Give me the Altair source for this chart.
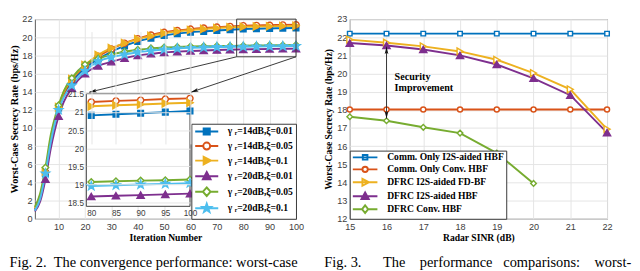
import math
import altair as alt
import pandas as pd

# ---------------- Fig. 2 : convergence ----------------
iters = [1, 3, 5, 7, 10, 12, 15, 20, 25, 30, 35, 40, 45, 50, 55, 60, 65, 70, 75, 80, 85, 90, 95, 100]
g14_x001 = [1.0, 2.3, 5.0, 8.5, 12.2, 13.7, 15.1, 16.6, 17.6, 18.4, 19.05, 19.55, 19.9, 20.2, 20.4, 20.55, 20.65, 20.75, 20.83, 20.91, 20.94, 20.97, 21.0, 21.03]
g14_x005 = [1.1, 2.4, 5.1, 8.6, 12.2, 13.8, 15.3, 16.8, 17.9, 18.7, 19.35, 19.85, 20.25, 20.55, 20.75, 20.9, 21.02, 21.12, 21.2, 21.28, 21.31, 21.33, 21.36, 21.38]
g14_x01 = [1.2, 2.6, 5.2, 8.8, 12.3, 14.0, 15.4, 16.95, 18.05, 18.8, 19.35, 19.8, 20.15, 20.45, 20.65, 20.8, 20.92, 21.02, 21.1, 21.16, 21.19, 21.21, 21.24, 21.26]
g20_x001 = [0.8, 1.9, 4.35, 7.7, 11.3, 12.9, 14.4, 16.0, 16.85, 17.3, 17.7, 18.0, 18.18, 18.33, 18.42, 18.49, 18.54, 18.59, 18.63, 18.67, 18.69, 18.71, 18.73, 18.75]
g20_x005 = [1.3, 2.8, 5.65, 9.2, 12.5, 14.1, 15.5, 17.0, 17.65, 18.1, 18.4, 18.62, 18.78, 18.88, 18.94, 18.98, 19.01, 19.03, 19.05, 19.07, 19.09, 19.11, 19.12, 19.14]
g20_x01 = [0.9, 2.2, 5.0, 8.4, 12.0, 13.4, 14.7, 16.3, 17.35, 17.8, 18.1, 18.35, 18.52, 18.66, 18.76, 18.83, 18.88, 18.92, 18.94, 18.96, 18.98, 19.0, 19.02, 19.04]

left_series = [g14_x001, g14_x005, g14_x01, g20_x001, g20_x005, g20_x01]
left_names = ["γ ᵣ=14dB,ξ=0.01", "γ ᵣ=14dB,ξ=0.05", "γ ᵣ=14dB,ξ=0.1",
              "γ ᵣ=20dB,ξ=0.01", "γ ᵣ=20dB,ξ=0.05", "γ ᵣ=20dB,ξ=0.1"]
left_x_ticks = [10, 20, 30, 40, 50, 60, 70, 80, 90, 100]
left_y_ticks = [0, 2, 4, 6, 8, 10, 12, 14, 16, 18, 20, 22]
inset_x_ticks = [80, 85, 90, 95, 100]
inset_y_ticks = [18.5, 19, 19.5, 20, 20.5, 21, 21.5]
inset_x_dom = [79, 100]
inset_y_dom = [18.4, 21.5]
zoom_box_x = [77.5, 100]
zoom_box_y = [17.85, 22]
arrow_tail_x = [77.5, 100]
arrow_tail_y = [17.85, 17.85]
arrow_tip_x = [21.6, 60.2]
arrow_tip_y = [13.95, 13.95]

# ---------------- Fig. 3 : comparisons ----------------
sinr = [15, 16, 17, 18, 19, 20, 21, 22]
comm_i2s = [22.2, 22.2, 22.2, 22.2, 22.2, 22.2, 22.2, 22.2]
comm_conv = [18.02, 18.02, 18.02, 18.02, 18.02, 18.02, 18.02, 18.02]
dfrc_fdbf = [21.87, 21.7, 21.5, 21.22, 20.76, 20.03, 19.13, 16.94]
dfrc_i2s = [21.68, 21.55, 21.33, 21.0, 20.5, 19.74, 18.81, 16.75]
sinr_conv = [15, 16, 17, 18, 19, 20]
dfrc_conv = [17.62, 17.4, 17.04, 16.72, 15.62, 13.95]
right_names = ["Comm. Only I2S-aided HBF", "Comm. Only Conv. HBF", "DFRC I2S-aided FD-BF",
               "DFRC I2S-aided HBF", "DFRC Conv. HBF"]
right_x_ticks = [15, 16, 17, 18, 19, 20, 21, 22]
right_y_ticks = [12, 13, 14, 15, 16, 17, 18, 19, 20, 21, 22, 23]
gap_x = [16]
gap_top = [21.48]
gap_bottom = [17.52]
note_text = ["Security", "Improvement"]
note_x = [16.22, 16.22]
note_y = [19.81, 19.18]

NB = "\u00a0"
caption_left = "Fig. 2." + NB * 2 + "The convergence performance: worst-case"
caption_right = ("Fig." + NB + "3." + NB * 6 + "The" + NB * 4 + "performance" + NB * 3 + "comparisons:"
                 + NB * 4 + "worst-")

# ---------------- styling ----------------
MATLAB = ["#0072BD", "#D95319", "#EDB120", "#7E2F8E", "#77AC30", "#4DBEEE"]
STAR = ("M0,-1.2L0.28,-0.39L1.14,-0.37L0.46,0.15L0.71,0.97L0,0.48L-0.71,0.97"
        "L-0.46,0.15L-1.14,-0.37L-0.28,-0.39Z")
ARROWHEAD = "M0,0L-0.55,2.2L0,1.7L0.55,2.2Z"
left_shapes = ["square", "circle", "triangle-right", "triangle-up", "diamond", STAR]
left_fills = [MATLAB[0], "white", MATLAB[2], MATLAB[3], "white", MATLAB[5]]
left_sizes = [34, 40, 55, 55, 45, 55]
right_colors = MATLAB[:5]
right_shapes = ["square", "circle", "triangle-right", "triangle-up", "diamond"]
right_fills = ["white", "white", "white", MATLAB[3], "white"]
right_sizes = [22, 28, 50, 55, 34]

leg_left_paths = [
    "M-3,0H3M-0.8,-0.8H0.8V0.8H-0.8Z",
    "M-3,0H-0.9M0.9,0H3M0.9,0A0.9,0.9,0,1,1,-0.9,0A0.9,0.9,0,1,1,0.9,0Z",
    "M-3,0H3M-0.8,-1L1.1,0L-0.8,1Z",
    "M-3,0H3M0,-1.1L1,0.8L-1,0.8Z",
    "M-3,0H-1M1,0H3M0,-1.1L1,0L0,1.1L-1,0Z",
    "M-3,0H3" + STAR,
]
leg_right_paths = [
    "M-3.2,0H3.2M-0.6,-0.6H0.6V0.6H-0.6Z",
    "M-3.2,0H-0.7M0.7,0H3.2M0.7,0A0.7,0.7,0,1,1,-0.7,0A0.7,0.7,0,1,1,0.7,0Z",
    "M-3.2,0H3.2M-0.7,-0.9L1,0L-0.7,0.9Z",
    "M-3.2,0H3.2M0,-1L0.95,0.75L-0.95,0.75Z",
    "M-3.2,0H-0.8M0.8,0H3.2M0,-1L0.8,0L0,1L-0.8,0Z",
]

W_L, W_R, H = 272, 268, 208


def ax(values, **kw):
    return alt.Axis(values=values, tickCount=len(values) + 1, labelOverlap=False, labelFlush=False,
                    labelBound=False, **kw)


# ---------------- left dataframe ----------------
rows = []
for name, vals in zip(left_names, left_series):
    for it, v in zip(iters, vals):
        rows.append({"it": it, "val": v, "series": name})
df_l = pd.DataFrame(rows)

xs_main = alt.Scale(domain=[1, 100], nice=False, zero=False)
ys_main = alt.Scale(domain=[0, 22], nice=False, zero=False)

X_main_axis = alt.X("it:Q", scale=xs_main, axis=ax(left_x_ticks, title="Iteration Number", orient="bottom",
                                                 titleFontSize=10, titlePadding=2, labelPadding=3))
Y_main_axis = alt.Y("val:Q", scale=ys_main, axis=ax(left_y_ticks, title="Worst-Case Secrecy Rate (bps/Hz)",
                                                  orient="left", titleFontSize=10.5, titlePadding=3, labelPadding=3))
X_main = alt.X("it:Q", scale=xs_main)
Y_main = alt.Y("val:Q", scale=ys_main)

main_layers = []
for i, (name, col) in enumerate(zip(left_names, MATLAB)):
    main_layers.append(
        alt.Chart(df_l).transform_filter(alt.datum.series == name)
        .mark_line(strokeWidth=2, interpolate="monotone", color=col)
        .encode(x=X_main_axis if i == 0 else X_main, y=Y_main_axis if i == 0 else Y_main))
for name, shp, fc, col, sz in zip(left_names, left_shapes, left_fills, MATLAB, left_sizes):
    main_layers.append(
        alt.Chart(df_l).transform_filter(alt.datum.series == name)
        .transform_filter("datum.it % 5 == 0")
        .mark_point(shape=shp, filled=True, fill=fc, stroke=col, strokeWidth=1.5, size=sz, opacity=1)
        .encode(x=X_main, y=Y_main))

box_df = pd.DataFrame({"x1": [zoom_box_x[0]], "x2": [zoom_box_x[1]], "y1": [zoom_box_y[0]], "y2": [zoom_box_y[1]]})
main_layers.append(alt.Chart(box_df).mark_rect(fillOpacity=0, stroke="#3a3a3a", strokeWidth=1).encode(
    x=alt.X("x1:Q", scale=xs_main), x2="x2:Q",
    y=alt.Y("y1:Q", scale=ys_main), y2="y2:Q"))


def ang(x0, y0, x1, y1, fx, fy):
    dx = fx(x1) - fx(x0)
    dy = fy(y1) - fy(y0)
    return math.degrees(math.atan2(dx, -dy)) % 360


fxl = lambda x: (x - 1) / 99 * W_L
fyl = lambda y: (22 - y) / 22 * H
arr_df = pd.DataFrame({"x1": arrow_tail_x, "y1": arrow_tail_y, "x2": arrow_tip_x, "y2": arrow_tip_y})
arr_df["ang"] = [ang(a, b, c, d, fxl, fyl) for a, b, c, d in zip(arrow_tail_x, arrow_tail_y, arrow_tip_x, arrow_tip_y)]
main_layers.append(alt.Chart(arr_df).mark_rule(color="#333333", strokeWidth=1).encode(
    x=alt.X("x1:Q", scale=xs_main), y=alt.Y("y1:Q", scale=ys_main), x2="x2:Q", y2="y2:Q"))
main_layers.append(alt.Chart(arr_df).mark_point(shape=ARROWHEAD, filled=True, color="#111111", size=50, opacity=1).encode(
    x=alt.X("x2:Q", scale=xs_main), y=alt.Y("y2:Q", scale=ys_main),
    angle=alt.Angle("ang:Q", scale=None)))


def legend_layer(df, names, colors, fills, paths, leg):
    return alt.Chart(df).transform_filter("false").mark_point(
        filled=True, strokeWidth=2, opacity=1).encode(
        fill=alt.Fill("series:N", scale=alt.Scale(domain=names, range=fills), legend=leg),
        stroke=alt.Stroke("series:N", scale=alt.Scale(domain=names, range=colors), legend=leg),
        shape=alt.Shape("series:N", scale=alt.Scale(domain=names, range=paths), legend=leg))


leg_l = alt.Legend(orient="bottom-right", offset=0, title=None, labelFont="Liberation Serif", labelFontWeight="bold",
                   labelFontSize=10, labelColor="black", symbolSize=64, symbolStrokeWidth=2, symbolOffset=8,
                   labelOffset=17, padding=3, rowPadding=-0.8, strokeColor="#333333", fillColor="white",
                   symbolFillColor="white", cornerRadius=0, labelLimit=200)
main_layers.append(legend_layer(df_l, left_names, MATLAB, left_fills, leg_left_paths, leg_l))

left_main = alt.layer(*main_layers)

# inset
ix_scale = alt.Scale(domain=inset_x_dom, range=[0.197 * W_L, 0.594 * W_L], nice=False, zero=False)
iy_scale = alt.Scale(domain=inset_y_dom, range=[0.9375 * H, 0.375 * H], nice=False, zero=False)
inset_df = pd.DataFrame({"x1": [inset_x_dom[0]], "x2": [inset_x_dom[1]], "y1": [inset_y_dom[0]], "y2": [inset_y_dom[1]]})
inset_layers = [alt.Chart(inset_df).mark_rect(fill="white", stroke="#3a3a3a", strokeWidth=1).encode(
    x=alt.X("x1:Q", scale=ix_scale, axis=ax(inset_x_ticks, orient="bottom", offset=-(0.0625 * H),
                                            title=None, grid=True, zindex=1, labelFontSize=8.5, labelPadding=3)),
    x2="x2:Q",
    y=alt.Y("y1:Q", scale=iy_scale, axis=ax(inset_y_ticks, orient="left", offset=-(0.197 * W_L), format="~g",
                                            title=None, grid=True, zindex=1, labelFontSize=8.5, labelPadding=3)),
    y2="y2:Q")]
IX = alt.X("it:Q", scale=ix_scale)
IY = alt.Y("val:Q", scale=iy_scale)
for name, col in zip(left_names, MATLAB):
    inset_layers.append(
        alt.Chart(df_l).transform_filter(alt.datum.series == name).transform_filter("datum.it >= 80")
        .mark_line(strokeWidth=2, color=col).encode(x=IX, y=IY))
for name, shp, fc, col, sz in zip(left_names, left_shapes, left_fills, MATLAB, left_sizes):
    inset_layers.append(
        alt.Chart(df_l).transform_filter(alt.datum.series == name)
        .transform_filter("datum.it >= 80 && datum.it % 5 == 0")
        .mark_point(shape=shp, filled=True, fill=fc, stroke=col, strokeWidth=1.5, size=sz, opacity=1)
        .encode(x=IX, y=IY))
left_inset = alt.layer(*inset_layers)

left = alt.layer(left_main, left_inset).resolve_scale(x="independent", y="independent").properties(
    width=W_L, height=H,
    title=alt.TitleParams(caption_left, orient="bottom", anchor="start", frame="bounds", offset=14,
                          font="Liberation Serif", fontSize=15, fontWeight="normal", color="black"))

# ---------------- right dataframe ----------------
rrows = []
for name, xs, vals in zip(right_names, [sinr, sinr, sinr, sinr, sinr_conv],
                          [comm_i2s, comm_conv, dfrc_fdbf, dfrc_i2s, dfrc_conv]):
    for x, v in zip(xs, vals):
        rrows.append({"snr": x, "val": v, "series": name})
df_r = pd.DataFrame(rrows)

xs_r = alt.Scale(domain=[15, 22], nice=False, zero=False)
ys_r = alt.Scale(domain=[12, 23], nice=False, zero=False)
XR_axis = alt.X("snr:Q", scale=xs_r, axis=ax(right_x_ticks, title="Radar SINR (dB)", orient="bottom",
                                           titleFontSize=10, titlePadding=2, labelPadding=3))
YR_axis = alt.Y("val:Q", scale=ys_r, axis=ax(right_y_ticks, title="Worst-Case Secrecy Rate (bps/Hz)",
                                           orient="left", titleFontSize=10, titlePadding=3, labelPadding=3))
XR = alt.X("snr:Q", scale=xs_r)
YR = alt.Y("val:Q", scale=ys_r)

r_layers = []
for i, (name, col) in enumerate(zip(right_names, right_colors)):
    r_layers.append(
        alt.Chart(df_r).transform_filter(alt.datum.series == name).mark_line(strokeWidth=2, color=col)
        .encode(x=XR_axis if i == 0 else XR, y=YR_axis if i == 0 else YR))
for name, shp, fc, col, sz in zip(right_names, right_shapes, right_fills, right_colors, right_sizes):
    r_layers.append(
        alt.Chart(df_r).transform_filter(alt.datum.series == name)
        .mark_point(shape=shp, filled=True, fill=fc, stroke=col, strokeWidth=1.5, size=sz, opacity=1)
        .encode(x=XR, y=YR))

gap_df = pd.DataFrame({"x": gap_x, "y1": gap_top, "y2": gap_bottom})
r_layers.append(alt.Chart(gap_df).mark_rule(color="#333333", strokeWidth=1).encode(
    x=alt.X("x:Q", scale=xs_r), y=alt.Y("y1:Q", scale=ys_r), y2="y2:Q"))
heads_df = pd.DataFrame({"x": gap_x + gap_x, "y": gap_top + gap_bottom, "ang": [0, 180]})
r_layers.append(alt.Chart(heads_df).mark_point(shape=ARROWHEAD, filled=True, color="#111111", size=50, opacity=1).encode(
    x=alt.X("x:Q", scale=xs_r), y=alt.Y("y:Q", scale=ys_r),
    angle=alt.Angle("ang:Q", scale=None)))
note_df = pd.DataFrame({"t": note_text, "x": note_x, "y": note_y})
r_layers.append(alt.Chart(note_df).mark_text(align="left", baseline="middle", font="Liberation Serif", fontWeight="bold",
                                             fontSize=10.5, color="black").encode(
    x=alt.X("x:Q", scale=xs_r), y=alt.Y("y:Q", scale=ys_r), text="t:N"))

leg_r = alt.Legend(orient="bottom-left", offset=0, title=None, labelFont="Liberation Serif", labelFontWeight="bold",
                   labelFontSize=10, labelColor="black", symbolSize=64, symbolStrokeWidth=2, symbolOffset=9,
                   labelOffset=18, padding=2, rowPadding=-1.5, strokeColor="#333333", fillColor="white",
                   symbolFillColor="white", cornerRadius=0, labelLimit=200)
r_layers.append(legend_layer(df_r, right_names, right_colors, right_fills, leg_right_paths, leg_r))

right = alt.layer(*r_layers).properties(
    width=W_R, height=H,
    title=alt.TitleParams(caption_right, orient="bottom", anchor="start", frame="bounds", offset=14,
                          font="Liberation Serif", fontSize=15, fontWeight="normal", color="black"))

chart = alt.hconcat(left, right, spacing=19).resolve_scale(
    fill="independent", stroke="independent", shape="independent"
).configure_view(stroke="#555555", strokeWidth=1).configure_axis(
    labelFont="Liberation Sans", labelFontSize=9.5, labelColor="#404040",
    titleFont="Liberation Serif", titleFontWeight="bold", titleColor="black",
    gridColor="#e4e4e4", gridWidth=1, domain=False, ticks=False, labelOverlap=False, labelFlush=False
).properties(padding={"left": 0, "top": 0, "right": 0, "bottom": 0})

chart.save("out.html", embed_options={"renderer": "svg", "actions": False})
